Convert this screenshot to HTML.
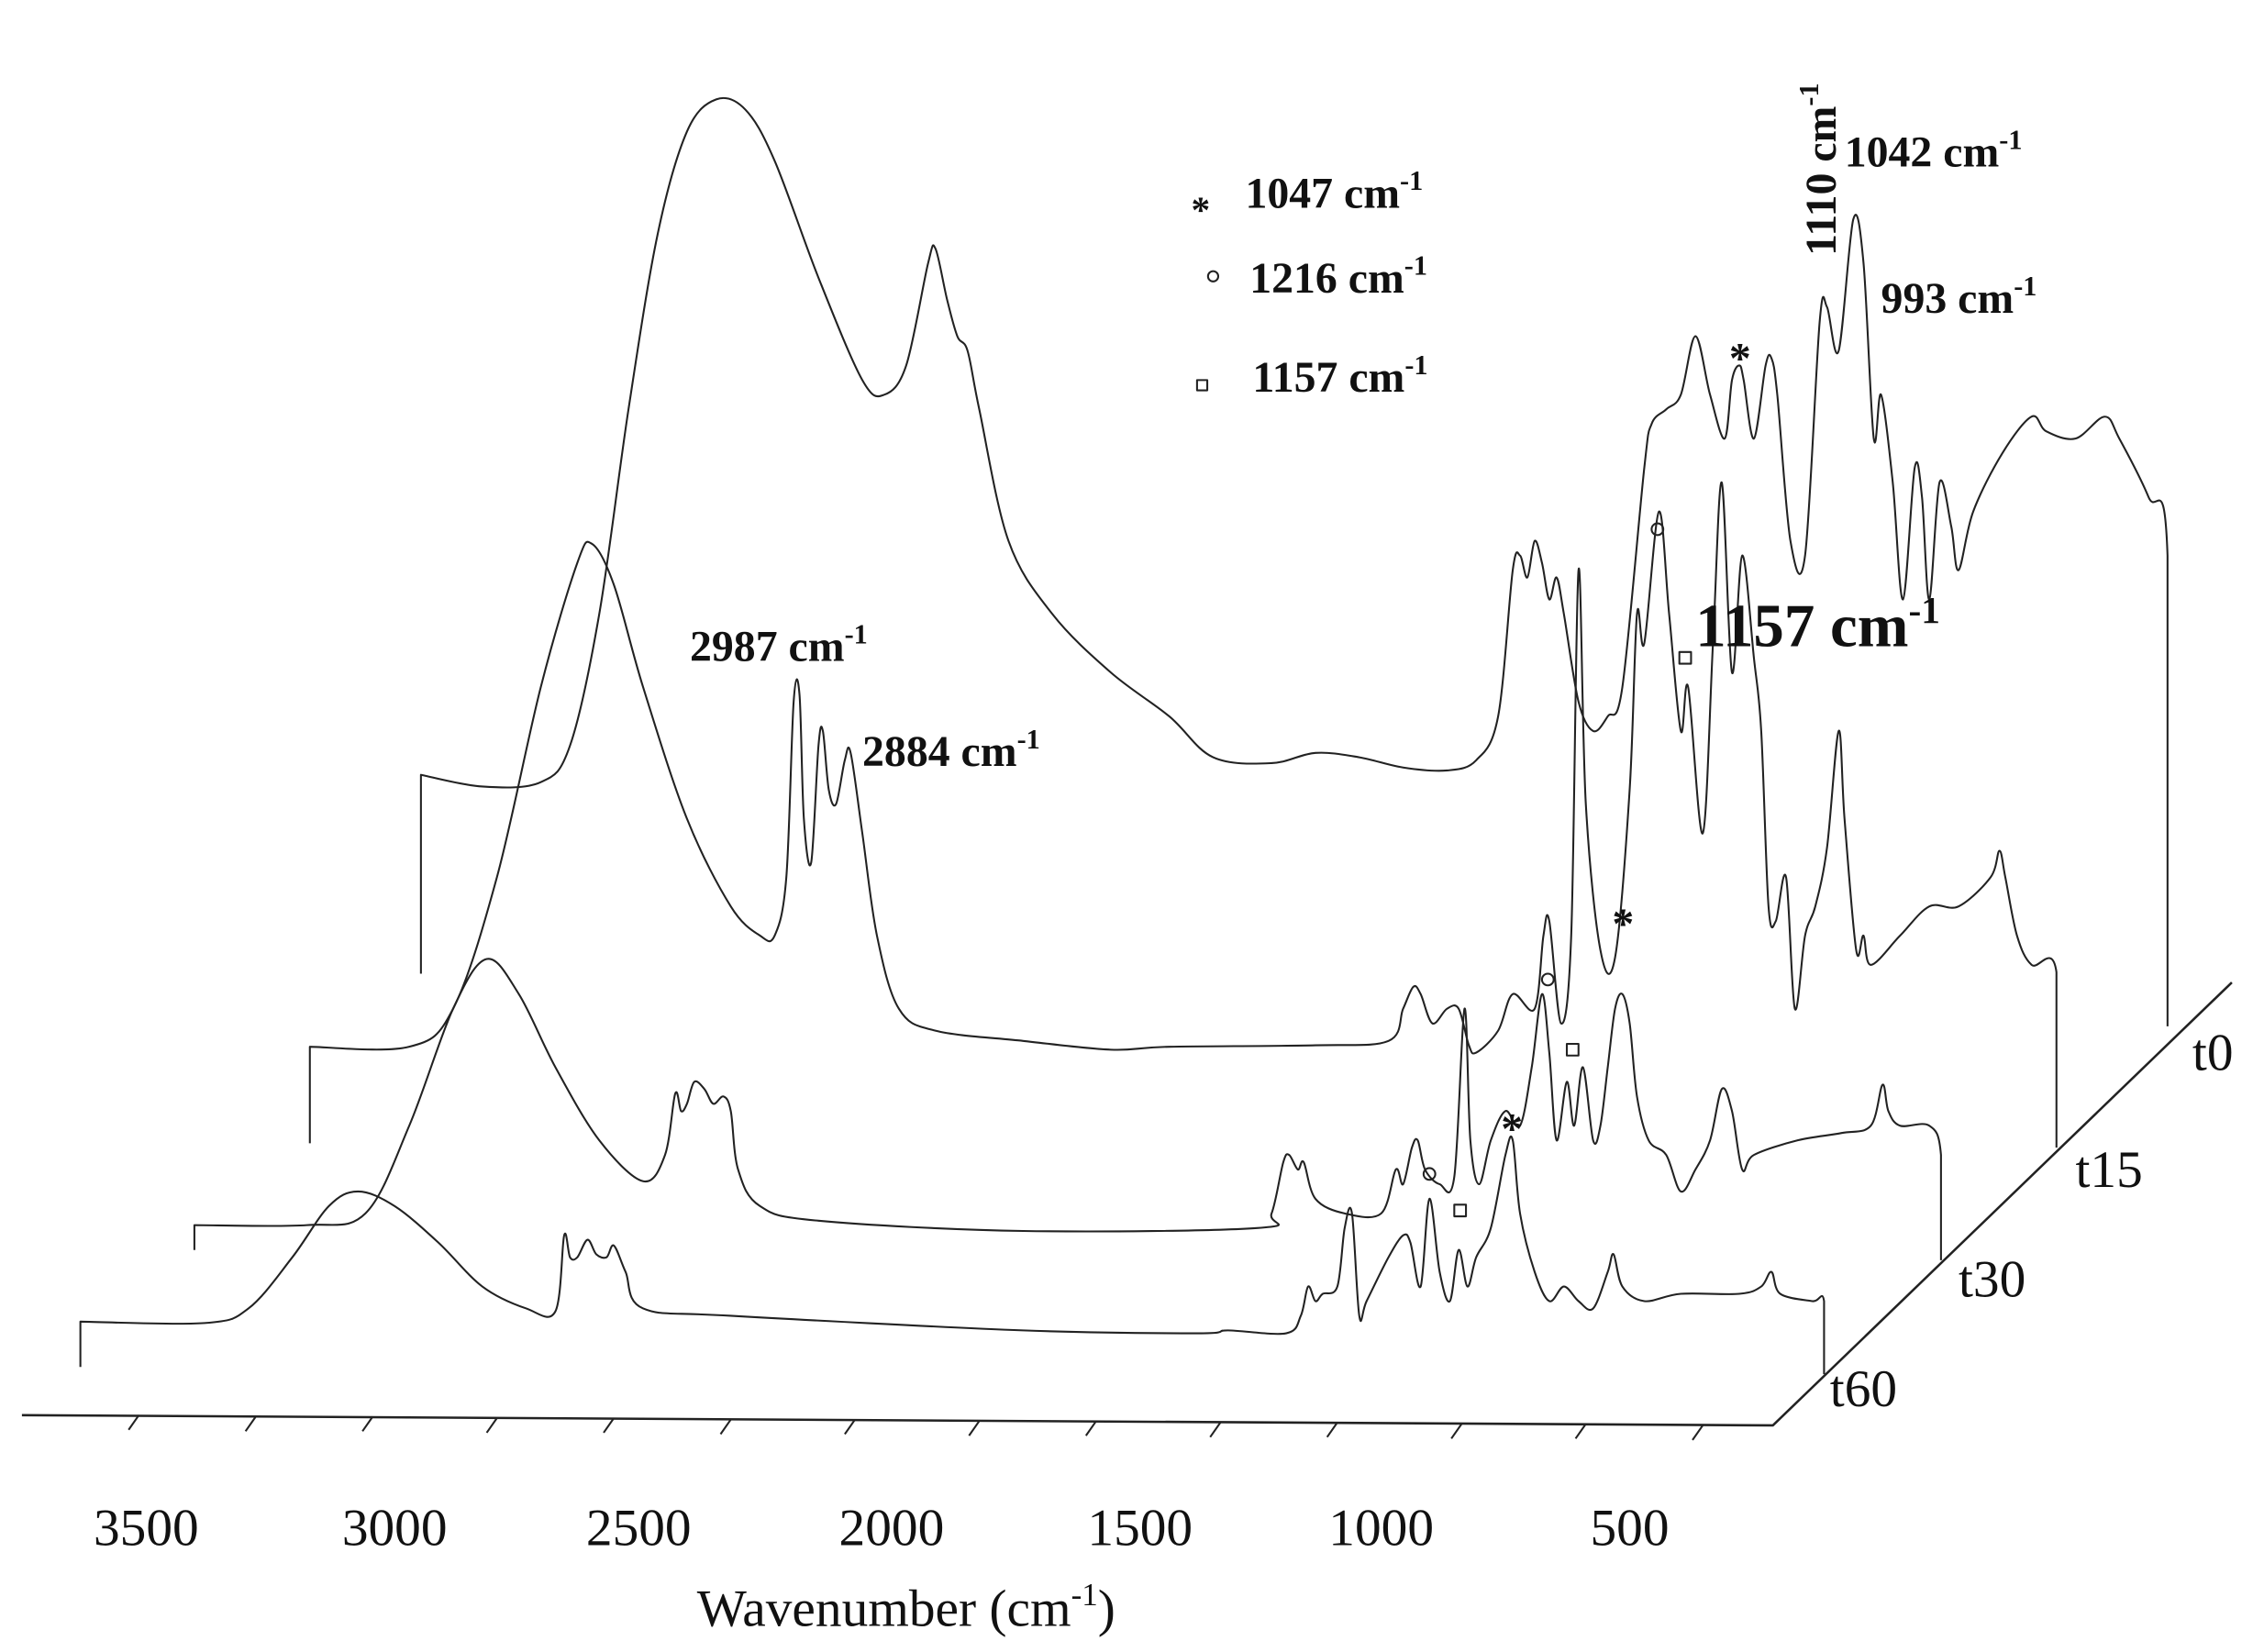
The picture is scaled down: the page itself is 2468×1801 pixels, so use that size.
<!DOCTYPE html>
<html><head><style>html,body{margin:0;padding:0;background:#fff}svg{display:block}</style></head>
<body>
<svg width="2468" height="1801" viewBox="0 0 1549 1130" preserveAspectRatio="none" xmlns="http://www.w3.org/2000/svg">
<g fill="none" stroke="#222" stroke-width="1.3" stroke-linejoin="round">
<polyline class="s" points="288,666 288,530 330,538 370,535 390,510 410,420 430,280 450,160 470,90 490,68 510,75 530,110 560,190 590,260 605,270 620,250 635,180 640,170 648,205 655,230 662,240 670,280 690,370 720,420 760,460 800,490 830,518 870,522 900,515 930,518 960,525 990,527 1010,520 1025,490 1035,390 1040,380 1045,395 1050,370 1055,385 1060,410 1065,395 1070,420 1080,480 1090,500 1100,490 1110,470 1125,320 1130,290 1140,280 1150,270 1160,230 1170,270 1180,300 1185,260 1190,250 1193,260 1200,300 1208,250 1212,245 1216,270 1225,370 1235,380 1245,220 1250,210 1258,240 1268,150 1275,180 1282,300 1287,270 1295,330 1302,410 1310,320 1315,340 1320,410 1327,330 1335,360 1340,390 1350,350 1370,310 1390,285 1400,295 1420,300 1440,285 1450,300 1470,340 1483,380 1483,702"/>
<polyline class="s" points="212,782 212,716 280,716 310,690 340,600 370,470 395,385 405,372 420,400 440,470 470,560 500,620 520,640 530,640 538,600 543,480 547,475 550,560 555,590 560,510 563,500 567,540 572,550 578,520 582,515 590,570 600,640 615,690 640,705 700,712 760,718 800,716 900,715 950,712 960,690 967,675 972,680 980,700 990,690 998,690 1005,715 1010,720 1025,705 1035,680 1050,690 1056,640 1060,630 1068,700 1075,640 1080,390 1085,550 1095,650 1105,655 1115,540 1120,420 1125,440 1135,350 1142,420 1150,500 1155,470 1165,570 1172,440 1178,330 1185,460 1192,380 1200,450 1205,500 1210,620 1215,630 1222,600 1228,690 1235,640 1242,620 1250,580 1258,500 1262,560 1270,650 1275,640 1280,660 1300,640 1320,620 1340,620 1362,600 1368,582 1372,600 1380,640 1390,660 1407,665 1407,785"/>
<polyline class="s" points="133,855 133,838 210,838 250,830 280,770 310,690 333,656 355,680 380,730 410,780 440,808 455,790 462,748 466,760 470,755 475,740 482,745 488,755 495,750 500,760 505,800 520,825 560,835 700,842 860,840 870,830 878,795 882,790 888,800 892,795 900,820 920,830 945,830 955,800 960,810 966,785 970,780 975,800 985,810 995,805 1002,690 1006,780 1012,810 1020,780 1030,760 1040,770 1048,730 1055,680 1060,720 1065,780 1072,740 1077,770 1083,730 1090,780 1095,770 1100,730 1105,690 1110,680 1115,700 1120,750 1128,780 1140,790 1150,815 1160,800 1170,780 1178,745 1185,760 1192,800 1200,790 1230,780 1260,775 1280,770 1288,742 1292,760 1300,770 1320,770 1328,790 1328,862"/>
<polyline class="s" points="55,935 55,904 140,905 170,895 200,860 225,825 245,815 270,825 300,850 330,880 360,895 380,897 386,845 390,860 395,860 402,848 408,858 415,860 420,852 428,870 440,895 500,900 700,910 820,912 840,910 880,912 890,900 895,880 900,890 905,885 915,880 920,840 925,830 930,900 935,890 950,860 960,845 965,850 972,880 978,820 985,870 992,890 998,855 1004,880 1010,860 1020,840 1030,790 1035,780 1040,830 1050,870 1060,890 1070,880 1080,890 1090,895 1100,870 1104,858 1110,880 1125,890 1150,885 1190,885 1205,880 1212,870 1218,885 1240,890 1248,890 1248,940"/>
<polyline points="15,968 1213,975 1527,672" stroke-width="1.6"/>
<g stroke-width="1.3">
<line x1="95" y1="968" x2="88" y2="978"/><line x1="175" y1="969" x2="168" y2="979"/><line x1="255" y1="969" x2="248" y2="979"/><line x1="340" y1="970" x2="333" y2="980"/><line x1="420" y1="970" x2="413" y2="980"/><line x1="500" y1="971" x2="493" y2="981"/><line x1="585" y1="971" x2="578" y2="981"/><line x1="670" y1="972" x2="663" y2="982"/><line x1="750" y1="972" x2="743" y2="982"/><line x1="835" y1="973" x2="828" y2="983"/><line x1="915" y1="973" x2="908" y2="983"/><line x1="1000" y1="974" x2="993" y2="984"/><line x1="1085" y1="974" x2="1078" y2="984"/><line x1="1165" y1="975" x2="1158" y2="985"/>
</g>
<circle cx="1134" cy="362" r="4"/><rect x="1149" y="446" width="8" height="8"/>
<circle cx="1059" cy="670" r="4"/><rect x="1072" y="714" width="8" height="8"/>
<circle cx="978" cy="803" r="4"/><rect x="995" y="824" width="8" height="8"/>
<circle cx="830" cy="189" r="3.5"/><rect x="819" y="260" width="7" height="7"/>
</g>
<g font-family="Liberation Serif, serif" fill="#111">
<g font-size="36" text-anchor="middle">
<text x="100" y="1057">3500</text><text x="270" y="1057">3000</text><text x="437" y="1057">2500</text><text x="610" y="1057">2000</text><text x="780" y="1057">1500</text><text x="945" y="1057">1000</text><text x="1115" y="1057">500</text>
<text x="620" y="1112">Wavenumber (cm<tspan font-size="22" dy="-14">-1</tspan><tspan dy="14">)</tspan></text>
</g>
<g font-size="36">
<text x="1500" y="732">t0</text><text x="1420" y="812">t15</text><text x="1340" y="887">t30</text><text x="1252" y="962">t60</text>
</g>
<g font-weight="bold" font-size="30">
<text x="472" y="452">2987 cm<tspan font-size="19" dy="-12">-1</tspan></text>
<text x="590" y="524">2884 cm<tspan font-size="19" dy="-12">-1</tspan></text>
<text x="852" y="142">1047 cm<tspan font-size="19" dy="-12">-1</tspan></text>
<text x="855" y="200">1216 cm<tspan font-size="19" dy="-12">-1</tspan></text>
<text x="857" y="268">1157 cm<tspan font-size="19" dy="-12">-1</tspan></text>
<text x="1262" y="114">1042 cm<tspan font-size="19" dy="-12">-1</tspan></text>
<text x="1287" y="214">993 cm<tspan font-size="19" dy="-12">-1</tspan></text>
<text transform="translate(1256,175) rotate(-90)">1110 cm<tspan font-size="19" dy="-12">-1</tspan></text>
<text x="1160" y="442" font-size="42">1157 cm<tspan font-size="26" dy="-16">-1</tspan></text>
<text x="1183" y="255" font-size="30">*</text><text x="1103" y="642">*</text><text x="1027" y="782">*</text><text x="815" y="152" font-size="26">*</text>
</g>
</g>
</svg>
<script>
document.querySelectorAll('polyline.s').forEach(function(pl){
  var n=pl.points.numberOfItems,p=[];
  for(var i=0;i<n;i++){var q=pl.points.getItem(i);p.push([q.x,q.y]);}
  var d='M'+p[0][0]+','+p[0][1]+' L'+p[1][0]+','+p[1][1];
  for(var i=1;i<n-2;i++){
    var p0=p[i-1],p1=p[i],p2=p[i+1],p3=p[i+2];
    if(i==1)p0=p1;
    var c1=[p1[0]+(p2[0]-p0[0])/6,p1[1]+(p2[1]-p0[1])/6];
    var c2=[p2[0]-(p3[0]-p1[0])/6,p2[1]-(p3[1]-p1[1])/6];
    d+=' C'+c1[0]+','+c1[1]+' '+c2[0]+','+c2[1]+' '+p2[0]+','+p2[1];
  }
  d+=' L'+p[n-1][0]+','+p[n-1][1];
  var path=document.createElementNS('http://www.w3.org/2000/svg','path');
  path.setAttribute('d',d);
  pl.parentNode.replaceChild(path,pl);
});
</script>
</body></html>
